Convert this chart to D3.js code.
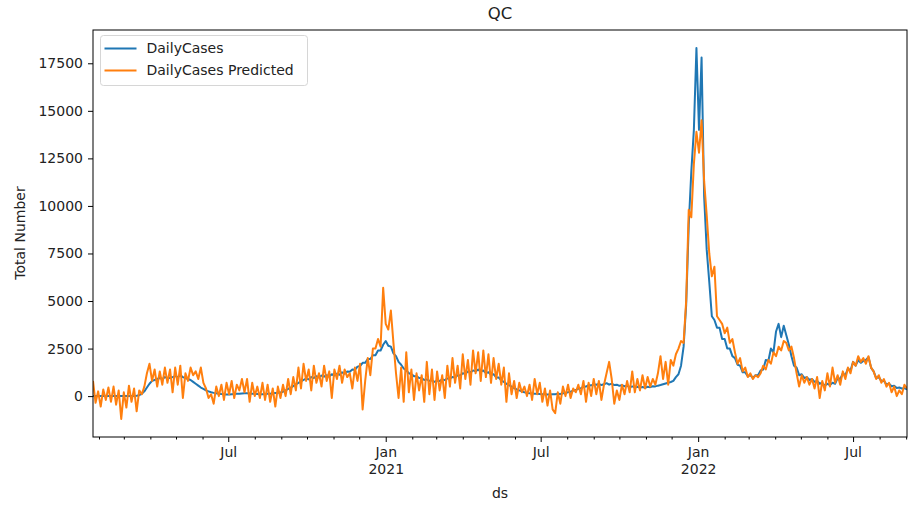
<!DOCTYPE html>
<html>
<head>
<meta charset="utf-8">
<script src="https://cdn.jsdelivr.net/npm/d3@7"></script>
<style>
  body { margin: 0; background: #fff; }
  svg { font-family: "DejaVu Sans", sans-serif; }
</style>
</head>
<body>
<svg id="chart" width="909" height="506"></svg>
<script>
// one value every 3 days, starting 2020-01-25
const startDate = new Date(2020, 0, 25);
const endDate = new Date(2022, 8, 2);
const stepDays = 3;

const dailyCases = [
  0, 0, 0, 0, 0, 0, 0, 0, 0, 0,
  0, 0, 0, 0, 0, 5, 10, 20, 50, 120,
  250, 450, 650, 800, 850, 900, 950, 900, 1000, 950,
  950, 1000, 1050, 1000, 1100, 1000, 950, 900, 850, 750,
  650, 550, 450, 380, 300, 250, 200, 170, 150, 130,
  110, 100, 90, 90, 100, 110, 120, 130, 140, 150,
  150, 140, 130, 120, 110, 100, 100, 110, 120, 130,
  150, 160, 170, 190, 230, 300, 380, 450, 530, 620,
  700, 780, 850, 920, 880, 1000, 950, 1050, 980, 1080,
  1020, 1100, 1030, 1150, 1080, 1180, 1120, 1250, 1180, 1300,
  1280, 1400, 1380, 1550, 1580, 1750, 1750, 1950, 1950, 2150,
  2150, 2400, 2400, 2700, 2900, 2650, 2600, 2250, 2100, 1800,
  1650, 1450, 1350, 1200, 1150, 1050, 1050, 950, 950, 850,
  880, 800, 830, 750, 820, 790, 880, 840, 930, 940,
  1000, 980, 1100, 1080, 1200, 1180, 1300, 1250, 1350, 1300,
  1400, 1280, 1350, 1220, 1250, 1120, 1150, 980, 980, 830,
  750, 650, 580, 500, 420, 350, 300, 250, 200, 170,
  150, 140, 130, 120, 110, 100, 100, 90, 90, 100,
  100, 120, 110, 150, 150, 210, 230, 290, 320, 390,
  420, 480, 500, 580, 560, 620, 600, 640, 580, 620,
  680, 600, 660, 580, 600, 540, 570, 520, 540, 480,
  510, 460, 490, 450, 480, 440, 490, 470, 520, 510,
  550, 580, 620, 660, 700, 740, 800, 1000, 1150, 1600,
  2600, 4800, 9000, 11800, 14000, 18300, 14000, 17800, 10500, 7700,
  6000, 4200, 4000, 3600, 3600, 3000, 3000, 2500, 2500, 2100,
  2000, 1650, 1600, 1250, 1250, 1050, 1100, 950, 1100, 1100,
  1350, 1400, 1900, 1850, 2500, 2300, 3400, 3800, 3100, 3700,
  3200, 2700, 2100, 1600, 1500, 1100, 1150, 950, 1000, 850,
  900, 750, 800, 650, 700, 550, 650, 580, 700, 650,
  950, 900, 1200, 1100, 1450, 1350, 1800, 1600, 1900, 1750,
  1850, 1900, 2050, 1500, 1300, 950, 1000, 800, 800, 620,
  650, 520, 550, 430, 450, 400, 420, 350
];

const dailyCasesPredicted = [
  800, -350, 250, -550, 350, -200, 450, -300, 500, -450,
  300, -1200, 200, -600, 550, -300, 400, -800, 300, 100,
  500, 1200, 1700, 800, 1400, 500, 1300, 600, 1500, 700,
  1400, 200, 1500, 600, 1600, -100, 1200, 800, 1500, 1100,
  1300, 900, 1500, 700, 400, -100, 100, -400, 500, 0,
  600, -200, 700, 100, 800, -100, 600, 300, 900, 200,
  900, -300, 700, 0, 500, -100, 700, -200, 600, -300,
  400, -550, 500, -100, 600, 0, 900, 100, 1000, 300,
  1500, 400, 1700, 800, 1400, 300, 1600, 700, 1200, 500,
  1600, 800, 1300, -100, 1400, 900, 1600, 700, 1400, 1000,
  1200, 400, 1500, 800, 1700, -700, 800, 2000, 1100, 2500,
  2500, 3000, 2600, 5700, 3800, 3500, 4500, 2800, 1200, -100,
  1500, -300, 2300, 200, 1400, -200, 1200, 300, 1100, -300,
  1800, 100, 1400, -200, 1300, 300, 1100, -100, 1600, 500,
  2000, 700, 1600, 400, 2200, 900, 1900, 600, 2400, 1200,
  2300, 800, 2400, 1000, 2200, 700, 2000, 900, 1700, 600,
  1500, -300, 1200, 100, 800, -100, 700, 200, 500, 0,
  600, -200, 900, 100, 700, -300, 400, -500, 300, -700,
  -900, 200, -400, 500, 0, 600, -100, 400, 200, 600,
  100, 800, -300, 700, 0, 900, 100, 800, -200, 600,
  1200, 1800, 900, -400, 300, -200, 600, 100, 800, 200,
  1300, 200, 900, 300, 1100, 400, 1000, 500, 900, 600,
  1200, 2100, 900, 1800, 600, 1900, 1600, 2200, 2500, 2900,
  2800, 5000, 9800, 9400, 12200, 13900, 12800, 14500, 11300, 9500,
  7500, 6300, 6800, 4200, 4000, 3800, 3300, 3600, 2800, 3000,
  2300, 1700, 2000, 1300, 1500, 1000, 1200, 900, 1100, 1000,
  1200, 1600, 1400, 1900, 1700, 2300, 2100, 2600, 2400, 2900,
  2800, 2400, 2600, 2000, 1200, 500, 1100, 700, 1000, 600,
  900, 400, 1000, -100, 800, 300, 1200, 500, 1500, 700,
  1100, 600, 1300, 900, 1500, 1200, 1800, 1600, 2100, 1800,
  2000, 1700, 2100, 1500, 1300, 900, 1100, 700, 900, 500,
  700, 200, 500, 0, 300, 100, 600, 400
];

const yTicks = [0, 2500, 5000, 7500, 10000, 12500, 15000, 17500];
const seriesNames = ["DailyCases", "DailyCases Predicted"];
const seriesColors = ["#1f77b4", "#ff7f0e"];

const svg = d3.select("#chart");
const margin = { left: 93, right: 907, top: 30, bottom: 437 };

const x = d3.scaleTime().domain([startDate, endDate]).range([margin.left, margin.right]);
const y = d3.scaleLinear().domain([-2150, 19250]).range([margin.bottom, margin.top]);

const dates = dailyCases.map((v, i) => d3.timeDay.offset(startDate, i * stepDays));

// axes
svg.append("g")
    .attr("transform", `translate(${margin.left},0)`)
    .call(d3.axisLeft(y).tickValues(yTicks).tickSize(5).tickPadding(5).tickFormat(d3.format("d")));

const majorTicks = [new Date(2020, 6, 1), new Date(2021, 0, 1), new Date(2021, 6, 1),
                    new Date(2022, 0, 1), new Date(2022, 6, 1)];
const minorTicks = d3.timeMonth.range(new Date(2020, 1, 1), endDate)
    .filter(d => d.getMonth() !== 0 && d.getMonth() !== 6);

svg.append("g")
    .attr("transform", `translate(0,${margin.bottom})`)
    .call(d3.axisBottom(x).tickValues(minorTicks).tickSize(2.5).tickFormat(""));

const xAxis = svg.append("g")
    .attr("transform", `translate(0,${margin.bottom})`)
    .call(d3.axisBottom(x).tickValues(majorTicks).tickSize(5).tickPadding(5)
        .tickFormat(d => d.getMonth() === 0 ? "Jan" : "Jul"));

xAxis.selectAll(".tick text")
    .filter(d => d.getMonth() === 0)
    .append("tspan")
    .attr("x", 0)
    .attr("dy", "1.25em")
    .text(d => d.getFullYear());

svg.selectAll(".domain").remove();
svg.selectAll(".tick line").attr("stroke", "#000").attr("stroke-width", 1);
svg.selectAll(".tick text").attr("font-size", 14).attr("fill", "#222")
    .attr("font-family", "DejaVu Sans, sans-serif");

// lines
const line = d3.line()
    .x((d, i) => x(dates[i]))
    .y(d => y(d));

svg.append("defs").append("clipPath").attr("id", "clip")
    .append("rect")
    .attr("x", margin.left).attr("y", margin.top)
    .attr("width", margin.right - margin.left).attr("height", margin.bottom - margin.top);

const plot = svg.append("g").attr("clip-path", "url(#clip)");
[dailyCases, dailyCasesPredicted].forEach((s, i) => {
    plot.append("path")
        .datum(s)
        .attr("fill", "none")
        .attr("stroke", seriesColors[i])
        .attr("stroke-width", 2)
        .attr("stroke-linejoin", "round")
        .attr("d", line);
});

// frame
svg.append("rect")
    .attr("x", margin.left).attr("y", margin.top)
    .attr("width", margin.right - margin.left).attr("height", margin.bottom - margin.top)
    .attr("fill", "none").attr("stroke", "#000").attr("stroke-width", 1);

// legend
const legend = svg.append("g").attr("transform", "translate(100.5,35.5)");
legend.append("rect")
    .attr("width", 207).attr("height", 50).attr("rx", 3)
    .attr("fill", "#fff").attr("fill-opacity", 0.8)
    .attr("stroke", "#d6d6d6");
seriesNames.forEach((name, i) => {
    const g = legend.append("g").attr("transform", `translate(0,${13 + i * 22})`);
    g.append("line").attr("x1", 4).attr("x2", 36)
        .attr("stroke", seriesColors[i]).attr("stroke-width", 2);
    g.append("text").attr("x", 46).attr("dy", "0.35em")
        .attr("font-size", 14).attr("fill", "#222").text(name);
});

// labels
svg.append("text").attr("x", 500).attr("y", 19).attr("text-anchor", "middle")
    .attr("font-size", 16.5).attr("fill", "#222").text("QC");
svg.append("text").attr("x", 500).attr("y", 498).attr("text-anchor", "middle")
    .attr("font-size", 14).attr("fill", "#222").text("ds");
svg.append("text")
    .attr("transform", "translate(25,233) rotate(-90)")
    .attr("text-anchor", "middle")
    .attr("font-size", 14).attr("fill", "#222").text("Total Number");
</script>
</body>
</html>
